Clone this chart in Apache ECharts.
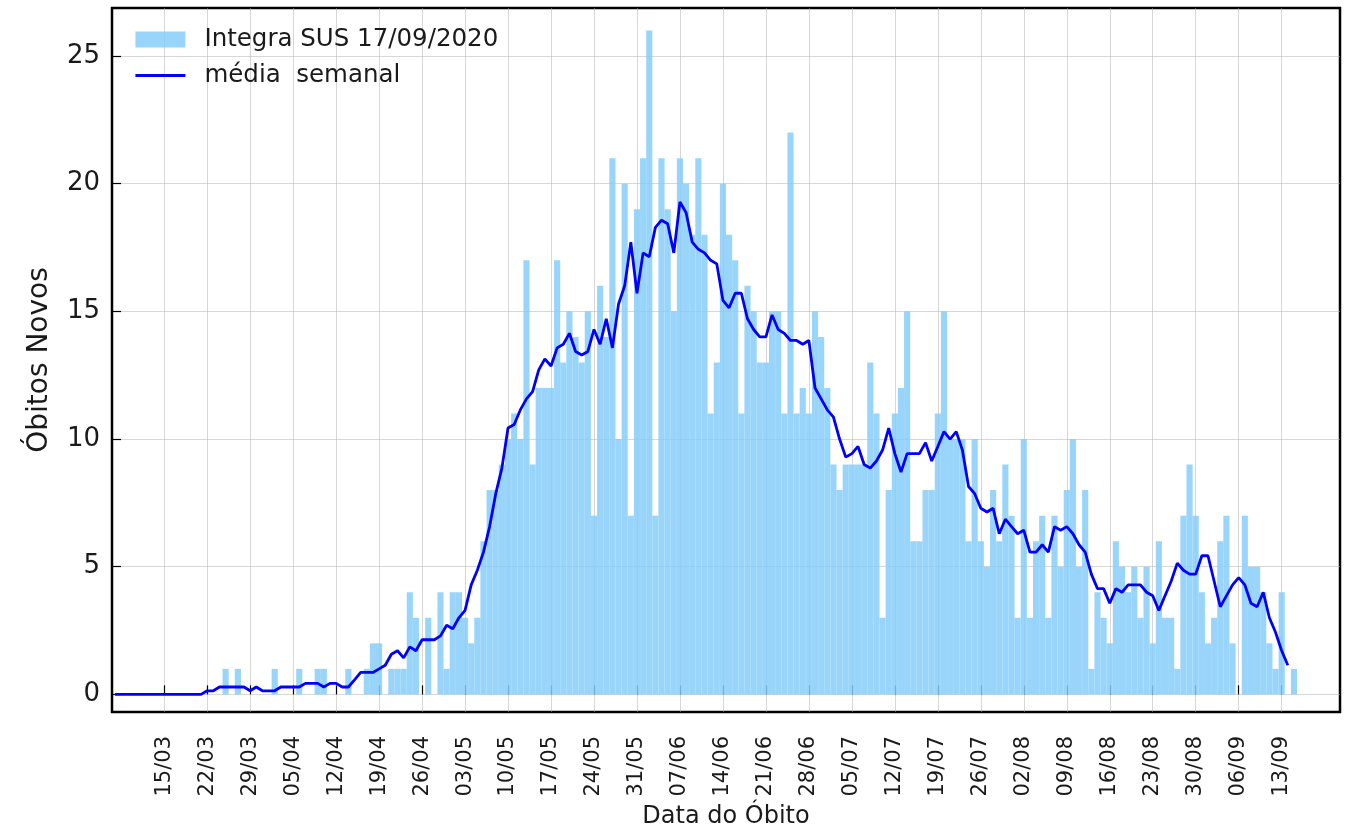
<!DOCTYPE html>
<html>
<head>
<meta charset="utf-8">
<script src="https://cdn.jsdelivr.net/npm/echarts@6/dist/echarts.min.js"></script>
<style>
  html, body { margin: 0; padding: 0; background: #fff; }
  #chart { width: 1354px; height: 834px; }
</style>
</head>
<body>
<div id="chart"></div>
<script>
// one category per day, 07/03/2020 .. 22/09/2020
var firstDay = new Date(2020, 2, 7);
var dayCount = 200;

var xTickLabels = ['15/03', '22/03', '29/03', '05/04', '12/04', '19/04', '26/04',
  '03/05', '10/05', '17/05', '24/05', '31/05', '07/06', '14/06', '21/06', '28/06',
  '05/07', '12/07', '19/07', '26/07', '02/08', '09/08', '16/08', '23/08', '30/08',
  '06/09', '13/09'];
var yTickValues = [0, 5, 10, 15, 20, 25];

// obitos por dia (Integra SUS 17/09/2020), starting 07/03
var obitos = [
  0, 0, 0, 0, 0, 0, 0, 0, 0, 0,
  0, 0, 0, 0, 0, 0, 0, 0, 1, 0,
  1, 0, 0, 0, 0, 0, 1, 0, 0, 0,
  1, 0, 0, 1, 1, 0, 0, 0, 1, 0,
  0, 1, 2, 2, 0, 1, 1, 1, 4, 3,
  0, 3, 0, 4, 1, 4, 4, 3, 2, 3,
  6, 8, 8, 9, 10, 11, 10, 17, 9, 12,
  12, 12, 17, 13, 15, 14, 13, 15, 7, 16,
  14, 21, 10, 20, 7, 19, 21, 26, 7, 21,
  19, 15, 21, 20, 18, 21, 18, 11, 13, 20,
  18, 17, 11, 16, 15, 13, 13, 15, 15, 11,
  22, 11, 12, 11, 15, 14, 12, 9, 8, 9,
  9, 9, 9, 13, 11, 3, 8, 11, 12, 15,
  6, 6, 8, 8, 11, 15, 10, 10, 10, 6,
  10, 6, 5, 8, 6, 9, 7, 3, 10, 3,
  6, 7, 3, 7, 5, 8, 10, 5, 8, 1,
  4, 3, 2, 6, 5, 4, 5, 3, 5, 2,
  6, 3, 3, 1, 7, 9, 7, 4, 2, 3,
  6, 7, 2, 0, 7, 5, 5, 4, 2, 1,
  4, 0, 1
];

// media semanal
var mediaSemanal = [
  0, 0, 0, 0, 0, 0, 0, 0, 0, 0,
  0, 0, 0, 0, 0, 0.14, 0.14, 0.29, 0.29, 0.29,
  0.29, 0.29, 0.14, 0.29, 0.14, 0.14, 0.14, 0.29, 0.29, 0.29,
  0.29, 0.43, 0.43, 0.43, 0.29, 0.43, 0.43, 0.29, 0.29, 0.57,
  0.86, 0.86, 0.86, 1.0, 1.14, 1.57, 1.71, 1.43, 1.86, 1.71,
  2.14, 2.14, 2.14, 2.29, 2.71, 2.57, 3.0, 3.29, 4.29, 4.86,
  5.57, 6.57, 7.86, 8.86, 10.43, 10.57, 11.14, 11.57, 11.86, 12.71,
  13.14, 12.86, 13.57, 13.71, 14.14, 13.43, 13.29, 13.43, 14.29, 13.71,
  14.71, 13.57, 15.29, 16.0, 17.71, 15.71, 17.29, 17.14, 18.29, 18.57,
  18.43, 17.29, 19.29, 18.86, 17.71, 17.43, 17.29, 17.0, 16.86, 15.43,
  15.14, 15.71, 15.71, 14.71, 14.29, 14.0, 14.0, 14.86, 14.29, 14.14,
  13.86, 13.86, 13.71, 13.86, 12.0, 11.57, 11.14, 10.86, 10.0, 9.29,
  9.43, 9.71, 9.0, 8.86, 9.14, 9.57, 10.43, 9.43, 8.71, 9.43,
  9.43, 9.43, 9.86, 9.14, 9.71, 10.29, 10.0, 10.29, 9.57, 8.14,
  7.86, 7.29, 7.14, 7.29, 6.29, 6.86, 6.57, 6.29, 6.43, 5.57,
  5.57, 5.86, 5.57, 6.57, 6.43, 6.57, 6.29, 5.86, 5.57, 4.71,
  4.14, 4.14, 3.57, 4.14, 4.0, 4.29, 4.29, 4.29, 4.0, 3.86,
  3.29, 3.86, 4.43, 5.14, 4.86, 4.71, 4.71, 5.43, 5.43, 4.43,
  3.43, 3.86, 4.29, 4.57, 4.29, 3.57, 3.43, 4.0, 3.0, 2.43,
  1.71, 1.14
];

var dias = [];
for (var i = 0; i < dayCount; i++) {
  var d = new Date(firstDay.getFullYear(), firstDay.getMonth(), firstDay.getDate() + i);
  dias.push(('0' + d.getDate()).slice(-2) + '/' + ('0' + (d.getMonth() + 1)).slice(-2));
}

function isTick(index, value) {
  return xTickLabels.indexOf(value) >= 0;
}

var font = 'DejaVu Sans';
var gridColor = 'rgba(176,176,176,0.5)';

var myChart = echarts.init(document.getElementById('chart'));
myChart.setOption({
  animation: false,
  backgroundColor: '#fff',
  textStyle: { fontFamily: font },
  grid: {
    left: 112, right: 14, top: 8, bottom: 122,
    outerBoundsMode: 'none',
    show: true,
    borderColor: '#000',
    borderWidth: 2.5
  },
  legend: {
    orient: 'vertical',
    left: 129,
    top: 22,
    itemWidth: 50,
    itemHeight: 16,
    itemGap: 11,
    textStyle: { fontSize: 24.5, color: '#1a1a1a', fontFamily: font, padding: [0, 0, 0, 14] },
    data: [
      { name: 'Integra SUS 17/09/2020', icon: 'rect' },
      { name: 'média  semanal', itemStyle: { opacity: 0 }, lineStyle: { width: 2.8 } }
    ]
  },
  xAxis: {
    type: 'category',
    data: dias,
    boundaryGap: true,
    name: 'Data do Óbito',
    nameLocation: 'middle',
    nameGap: 93,
    nameTextStyle: { fontSize: 24, color: '#1a1a1a', fontFamily: font },
    axisLine: { show: false },
    axisTick: {
      show: true, inside: true, length: 9, alignWithLabel: true,
      interval: isTick,
      lineStyle: { color: '#000', width: 1.2 }
    },
    axisLabel: {
      interval: isTick,
      rotate: 90,
      margin: 24,
      fontSize: 21,
      color: '#1a1a1a',
      fontFamily: font
    },
    splitLine: {
      show: true,
      interval: isTick,
      alignWithLabel: true,
      lineStyle: { color: gridColor, width: 1 }
    }
  },
  yAxis: {
    type: 'value',
    min: -0.69,
    max: 26.88,
    name: 'Óbitos Novos',
    nameLocation: 'middle',
    nameGap: 58,
    nameTextStyle: { fontSize: 28, color: '#1a1a1a', fontFamily: font },
    axisLine: { show: false },
    axisTick: {
      show: true, inside: true, length: 9,
      customValues: yTickValues,
      lineStyle: { color: '#000', width: 1.2 }
    },
    axisLabel: {
      customValues: yTickValues,
      margin: 12,
      fontSize: 26,
      color: '#1a1a1a',
      fontFamily: font
    },
    splitLine: {
      show: true,
      lineStyle: { color: gridColor, width: 1 }
    }
  },
  series: [
    {
      name: 'Integra SUS 17/09/2020',
      type: 'bar',
      data: obitos,
      barCategoryGap: '0%',
      itemStyle: { color: '#87cefa', opacity: 0.85 }
    },
    {
      name: 'média  semanal',
      type: 'line',
      data: mediaSemanal,
      symbol: 'none',
      showSymbol: false,
      lineStyle: { color: '#0000ff', width: 2.8 },
      itemStyle: { color: '#0000ff' }
    }
  ]
});
</script>
</body>
</html>
